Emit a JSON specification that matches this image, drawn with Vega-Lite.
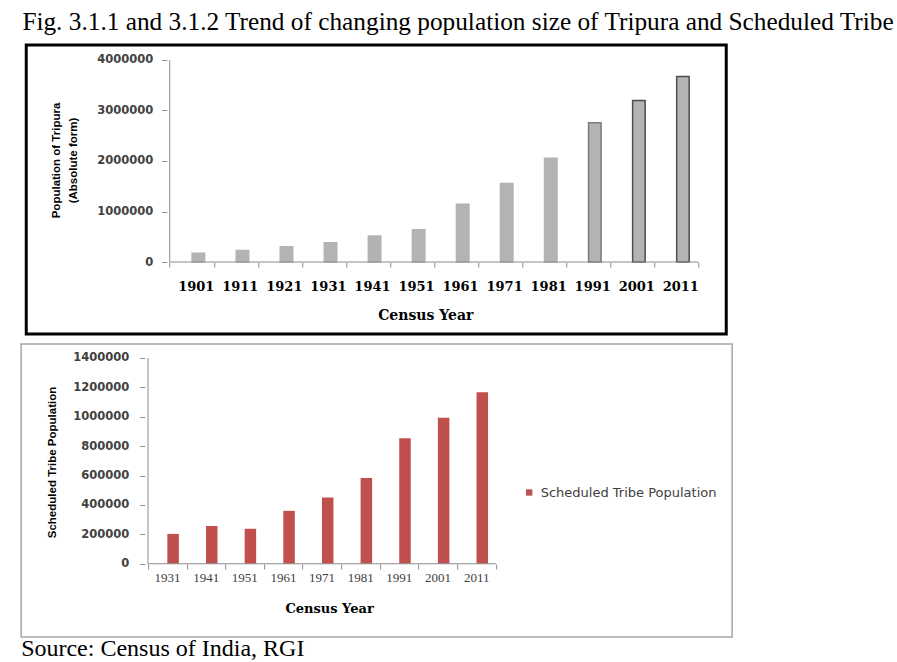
{
  "$schema": "https://vega.github.io/schema/vega-lite/v6.json",
  "background": "white",
  "padding": {"left": 20, "top": 10, "right": 0, "bottom": 0},
  "title": {
    "text": "Fig. 3.1.1 and 3.1.2 Trend of changing population size of Tripura and Scheduled Tribe",
    "anchor": "start",
    "font": "Liberation Serif",
    "fontSize": 25.3,
    "fontWeight": "normal",
    "color": "black",
    "offset": 8,
    "dx": 2
  },
  "config": {"view": {"stroke": null}},
  "spacing": 7,
  "center": true,
  "datasets": {
    "tripura": [
      {"year": 1901, "population": 173325},
      {"year": 1911, "population": 229613},
      {"year": 1921, "population": 304437},
      {"year": 1931, "population": 382450},
      {"year": 1941, "population": 513010},
      {"year": 1951, "population": 639029},
      {"year": 1961, "population": 1142005},
      {"year": 1971, "population": 1556342},
      {"year": 1981, "population": 2053058},
      {"year": 1991, "population": 2757205},
      {"year": 2001, "population": 3199203},
      {"year": 2011, "population": 3673917}
    ],
    "st": [
      {"year": 1931, "population": 203327},
      {"year": 1941, "population": 256991},
      {"year": 1951, "population": 237953},
      {"year": 1961, "population": 360070},
      {"year": 1971, "population": 450544},
      {"year": 1981, "population": 583920},
      {"year": 1991, "population": 853345},
      {"year": 2001, "population": 993426},
      {"year": 2011, "population": 1166813}
    ]
  },
  "vconcat": [
    {
      "width": 700,
      "height": 289,
      "view": {"stroke": "black", "strokeWidth": 3},
      "layer": [
        {
          "data": {"name": "tripura"},
          "mark": {"type": "bar", "size": 12.5, "fill": "#b3b3b3", "strokeWidth": 1.5},
          "encoding": {
            "x": {
              "field": "year",
              "type": "quantitative",
              "scale": {"domain": [1863.06, 2019.7], "nice": false, "zero": false},
              "axis": {
                "values": [1894.5, 1904.5, 1914.5, 1924.5, 1934.5, 1944.5, 1954.5, 1964.5, 1974.5, 1984.5, 1994.5, 2004.5, 2014.5],
                "domain": false,
                "grid": false,
                "ticks": true,
                "tickSize": 5,
                "tickColor": "#8c8c8c",
                "offset": -72,
                "labelExpr": "datum.value < 2010 ? format(datum.value + 6.5, 'd') : ''",
                "labelOffset": 26,
                "labelPadding": 13.5,
                "labelFont": "DejaVu Serif",
                "labelFontWeight": "bold",
                "labelFontSize": 13,
                "labelColor": "black",
                "labelFlush": false,
                "labelOverlap": false,
                "labelBound": false,
                "title": "Census Year",
                "titleFont": "DejaVu Serif",
                "titleFontSize": 14,
                "titleFontWeight": "bold",
                "titleColor": "black",
                "titleX": 399,
                "titleY": 57,
                "titleAlign": "center",
                "titleBaseline": "alphabetic"
              }
            },
            "y": {
              "field": "population",
              "type": "quantitative",
              "scale": {"domain": [-1425700, 4297000], "nice": false, "zero": false},
              "axis": {
                "values": [0, 500000, 1000000, 1500000, 2000000, 2500000, 3000000, 3500000, 4000000],
                "format": "d",
                "domain": false,
                "grid": false,
                "tickSize": 5,
                "tickColor": "#8c8c8c",
                "offset": -140.5,
                "labelPadding": 9,
                "labelOverlap": false,
                "labelFont": "DejaVu Sans",
                "labelFontWeight": "bold",
                "labelFontSize": 11.5,
                "labelColor": "#404040",
                "title": ["Population of Tripura", "(Absolute form)"],
                "titleFont": "Liberation Sans",
                "titleFontSize": 11.5,
                "titleFontWeight": "bold",
                "titleColor": "black",
                "titleAngle": -90,
                "titleX": -110,
                "titleY": 115,
                "titleAlign": "center",
                "titleBaseline": "middle",
                "titleLineHeight": 17
              }
            },
            "y2": {"datum": 0},
            "stroke": {
              "condition": [
                {"test": "datum.year >= 2001", "value": "#4d4d4d"},
                {"test": "datum.year >= 1991", "value": "#7a7a7a"}
              ],
              "value": "#b3b3b3"
            }
          }
        },
        {
          "data": {"values": [{}]},
          "mark": {"type": "rule", "color": "#8c8c8c", "strokeWidth": 1},
          "encoding": {"y": {"datum": 0}, "x": {"datum": 1894.5}, "x2": {"datum": 2014.5}}
        },
        {
          "data": {"values": [{}]},
          "mark": {"type": "rule", "color": "#8c8c8c", "strokeWidth": 1},
          "encoding": {"x": {"datum": 1894.5}, "y": {"datum": 0}, "y2": {"datum": 4000000}}
        }
      ]
    },
    {
      "width": 711,
      "height": 293,
      "view": {"stroke": "#a6a6a6", "strokeWidth": 1.5},
      "title": {
        "text": "Source: Census of India, RGI",
        "orient": "bottom",
        "anchor": "start",
        "font": "Liberation Serif",
        "fontSize": 24,
        "fontWeight": "normal",
        "color": "black",
        "offset": 0
      },
      "layer": [
        {
          "data": {"name": "st"},
          "mark": {"type": "bar", "size": 11.5},
          "encoding": {
            "x": {
              "field": "year",
              "type": "quantitative",
              "scale": {"domain": [1892.97, 2074.35], "nice": false, "zero": false},
              "axis": {
                "values": [1924.5, 1934.5, 1944.5, 1954.5, 1964.5, 1974.5, 1984.5, 1994.5, 2004.5, 2014.5],
                "domain": false,
                "grid": false,
                "ticks": true,
                "tickSize": 5,
                "tickColor": "#8c8c8c",
                "offset": -73,
                "labelExpr": "datum.value < 2010 ? format(datum.value + 6.5, 'd') : ''",
                "labelOffset": 19,
                "labelPadding": 2,
                "labelFont": "Liberation Serif",
                "labelFontWeight": "normal",
                "labelFontSize": 13,
                "labelColor": "#404040",
                "labelFlush": false,
                "labelOverlap": false,
                "labelBound": false,
                "title": "Census Year",
                "titleFont": "DejaVu Serif",
                "titleFontSize": 13,
                "titleFontWeight": "bold",
                "titleColor": "black",
                "titleX": 308,
                "titleY": 48,
                "titleAlign": "center",
                "titleBaseline": "alphabetic"
              }
            },
            "y": {
              "field": "population",
              "type": "quantitative",
              "scale": {"domain": [-498200, 1495100], "nice": false, "zero": false},
              "axis": {
                "values": [0, 200000, 400000, 600000, 800000, 1000000, 1200000, 1400000],
                "format": "d",
                "domain": false,
                "grid": false,
                "tickSize": 5,
                "tickColor": "#8c8c8c",
                "offset": -123.6,
                "labelPadding": 11,
                "labelOverlap": false,
                "labelFont": "DejaVu Sans",
                "labelFontWeight": "bold",
                "labelFontSize": 11.5,
                "labelColor": "#404040",
                "title": "Scheduled Tribe Population",
                "titleFont": "Liberation Sans",
                "titleFontSize": 11.5,
                "titleFontWeight": "bold",
                "titleColor": "black",
                "titleAngle": -90,
                "titleX": -92.6,
                "titleY": 118,
                "titleAlign": "center",
                "titleBaseline": "middle"
              }
            },
            "y2": {"datum": 0},
            "color": {
              "datum": "Scheduled Tribe Population",
              "scale": {"range": ["#c0504d"]},
              "legend": {
                "orient": "none",
                "legendX": 501.7,
                "legendY": 441,
                "title": null,
                "symbolType": "square",
                "symbolSize": 40,
                "symbolStrokeWidth": 0,
                "labelFont": "DejaVu Sans",
                "labelFontSize": 13,
                "labelColor": "#404040",
                "labelOffset": 5,
                "labelLimit": 400,
                "padding": 0
              }
            }
          }
        },
        {
          "data": {"values": [{}]},
          "mark": {"type": "rule", "color": "#8c8c8c", "strokeWidth": 1},
          "encoding": {"y": {"datum": 0}, "x": {"datum": 1924.5}, "x2": {"datum": 2014.5}}
        },
        {
          "data": {"values": [{}]},
          "mark": {"type": "rule", "color": "#8c8c8c", "strokeWidth": 1},
          "encoding": {"x": {"datum": 1924.5}, "y": {"datum": 0}, "y2": {"datum": 1400000}}
        }
      ]
    }
  ]
}
